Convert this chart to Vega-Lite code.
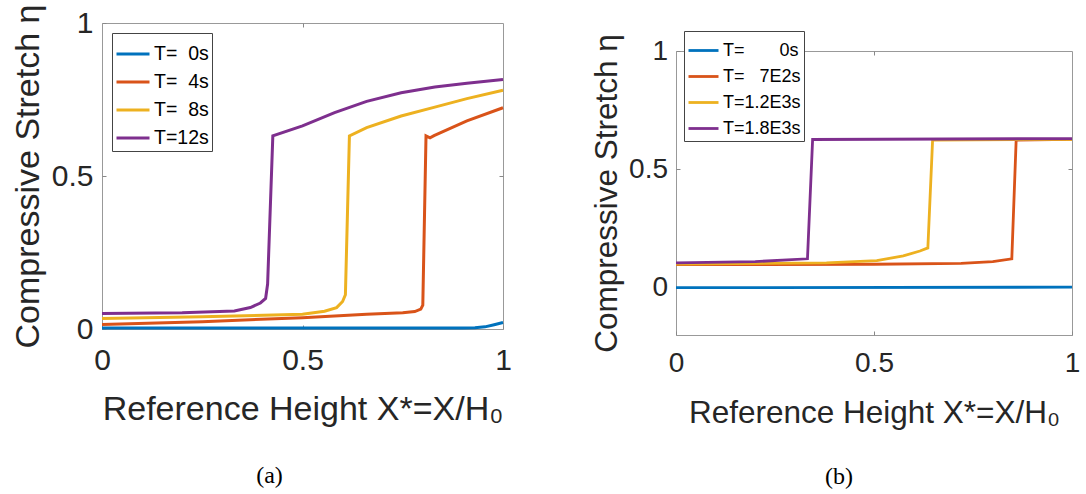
{
  "$schema": "https://vega.github.io/schema/vega-lite/v6.json",
  "padding": {"left": 10, "top": 3, "right": 0, "bottom": 0},
  "spacing": 78,
  "resolve": {"scale": {"color": "independent"}, "legend": {"color": "independent"}},
  "config": {
    "font": "Liberation Sans",
    "view": {"stroke": "#999", "strokeWidth": 1},
    "axis": {"labelFont": "Liberation Sans", "titleFont": "Liberation Sans", "labelColor": "#262626", "titleColor": "#262626", "titleFontWeight": "normal", "tickColor": "#888", "domain": false, "grid": false, "labelFlush": false, "labelOverlap": false, "labelBound": false},
    "legend": {"labelFont": "Liberation Sans"}
  },
  "datasets": {
    "a": [
      {"s": "T=\u00a0\u00a00s", "x": 0, "y": 0.003},
      {"s": "T=\u00a0\u00a00s", "x": 0.5, "y": 0.003},
      {"s": "T=\u00a0\u00a00s", "x": 0.9, "y": 0.003},
      {"s": "T=\u00a0\u00a00s", "x": 0.93, "y": 0.004},
      {"s": "T=\u00a0\u00a00s", "x": 0.955, "y": 0.007},
      {"s": "T=\u00a0\u00a00s", "x": 0.978, "y": 0.014},
      {"s": "T=\u00a0\u00a00s", "x": 1, "y": 0.021},
      {"s": "T=\u00a0\u00a04s", "x": 0, "y": 0.015},
      {"s": "T=\u00a0\u00a04s", "x": 0.25, "y": 0.024},
      {"s": "T=\u00a0\u00a04s", "x": 0.5, "y": 0.037},
      {"s": "T=\u00a0\u00a04s", "x": 0.66, "y": 0.048},
      {"s": "T=\u00a0\u00a04s", "x": 0.75, "y": 0.053},
      {"s": "T=\u00a0\u00a04s", "x": 0.78, "y": 0.057},
      {"s": "T=\u00a0\u00a04s", "x": 0.795, "y": 0.065},
      {"s": "T=\u00a0\u00a04s", "x": 0.8, "y": 0.078},
      {"s": "T=\u00a0\u00a04s", "x": 0.808, "y": 0.631},
      {"s": "T=\u00a0\u00a04s", "x": 0.818, "y": 0.625},
      {"s": "T=\u00a0\u00a04s", "x": 0.828, "y": 0.632},
      {"s": "T=\u00a0\u00a04s", "x": 0.91, "y": 0.68},
      {"s": "T=\u00a0\u00a04s", "x": 1, "y": 0.723},
      {"s": "T=\u00a0\u00a08s", "x": 0, "y": 0.034},
      {"s": "T=\u00a0\u00a08s", "x": 0.25, "y": 0.04},
      {"s": "T=\u00a0\u00a08s", "x": 0.5, "y": 0.048},
      {"s": "T=\u00a0\u00a08s", "x": 0.555, "y": 0.058},
      {"s": "T=\u00a0\u00a08s", "x": 0.585, "y": 0.07},
      {"s": "T=\u00a0\u00a08s", "x": 0.6, "y": 0.09},
      {"s": "T=\u00a0\u00a08s", "x": 0.607, "y": 0.112},
      {"s": "T=\u00a0\u00a08s", "x": 0.617, "y": 0.631},
      {"s": "T=\u00a0\u00a08s", "x": 0.66, "y": 0.658},
      {"s": "T=\u00a0\u00a08s", "x": 0.746, "y": 0.696},
      {"s": "T=\u00a0\u00a08s", "x": 0.83, "y": 0.725},
      {"s": "T=\u00a0\u00a08s", "x": 0.91, "y": 0.753},
      {"s": "T=\u00a0\u00a08s", "x": 1, "y": 0.78},
      {"s": "T=12s", "x": 0, "y": 0.051},
      {"s": "T=12s", "x": 0.2, "y": 0.053},
      {"s": "T=12s", "x": 0.33, "y": 0.059},
      {"s": "T=12s", "x": 0.37, "y": 0.07},
      {"s": "T=12s", "x": 0.395, "y": 0.085},
      {"s": "T=12s", "x": 0.408, "y": 0.1},
      {"s": "T=12s", "x": 0.413, "y": 0.147},
      {"s": "T=12s", "x": 0.426, "y": 0.631},
      {"s": "T=12s", "x": 0.5, "y": 0.664},
      {"s": "T=12s", "x": 0.58, "y": 0.707},
      {"s": "T=12s", "x": 0.66, "y": 0.744},
      {"s": "T=12s", "x": 0.746, "y": 0.772},
      {"s": "T=12s", "x": 0.83, "y": 0.791},
      {"s": "T=12s", "x": 0.91, "y": 0.803},
      {"s": "T=12s", "x": 1, "y": 0.815}
    ],
    "b": [
      {"s": "T=\u00a0\u00a0\u00a0\u00a0\u00a0\u00a0\u00a00s", "x": 0, "y": 0.0},
      {"s": "T=\u00a0\u00a0\u00a0\u00a0\u00a0\u00a0\u00a00s", "x": 1, "y": 0.002},
      {"s": "T=\u00a0\u00a0\u00a07E2s", "x": 0, "y": 0.097},
      {"s": "T=\u00a0\u00a0\u00a07E2s", "x": 0.5, "y": 0.099},
      {"s": "T=\u00a0\u00a0\u00a07E2s", "x": 0.72, "y": 0.103},
      {"s": "T=\u00a0\u00a0\u00a07E2s", "x": 0.8, "y": 0.11},
      {"s": "T=\u00a0\u00a0\u00a07E2s", "x": 0.848, "y": 0.122},
      {"s": "T=\u00a0\u00a0\u00a07E2s", "x": 0.859, "y": 0.624},
      {"s": "T=\u00a0\u00a0\u00a07E2s", "x": 1, "y": 0.627},
      {"s": "T=1.2E3s", "x": 0, "y": 0.1},
      {"s": "T=1.2E3s", "x": 0.38, "y": 0.105},
      {"s": "T=1.2E3s", "x": 0.507, "y": 0.114},
      {"s": "T=1.2E3s", "x": 0.574, "y": 0.134},
      {"s": "T=1.2E3s", "x": 0.616, "y": 0.155},
      {"s": "T=1.2E3s", "x": 0.636, "y": 0.168},
      {"s": "T=1.2E3s", "x": 0.648, "y": 0.624},
      {"s": "T=1.2E3s", "x": 1, "y": 0.627},
      {"s": "T=1.8E3s", "x": 0, "y": 0.105},
      {"s": "T=1.8E3s", "x": 0.2, "y": 0.11},
      {"s": "T=1.8E3s", "x": 0.332, "y": 0.122},
      {"s": "T=1.8E3s", "x": 0.345, "y": 0.626},
      {"s": "T=1.8E3s", "x": 1, "y": 0.63}
    ]
  },
  "hconcat": [
    {
      "width": 401,
      "height": 306,
      "data": {"name": "a"},
      "title": {"text": "(a)", "orient": "bottom", "anchor": "middle", "frame": "group", "font": "Liberation Serif", "fontSize": 24, "fontWeight": "normal", "color": "#000", "offset": 38, "dx": -33},
      "resolve": {"axis": {"x": "independent", "y": "independent"}},
      "layer": [
        {
          "mark": {"type": "line", "strokeWidth": 3, "clip": false},
          "encoding": {
            "x": {"field": "x", "type": "quantitative", "scale": {"domain": [0, 1], "nice": false, "zero": false},
              "axis": {"values": [0, 0.5, 1], "format": "~g", "labelFontSize": 30, "labelPadding": 20, "tickSize": -4, "title": "Reference Height X*=X/H\u2080", "titleFontSize": 34, "titlePadding": 17}},
            "y": {"field": "y", "type": "quantitative", "scale": {"domain": [0, 1], "nice": false, "zero": false},
              "axis": {"values": [0, 0.5, 1], "format": "~g", "labelFontSize": 30, "labelPadding": 13, "tickSize": -4, "title": "Compressive Stretch \u03b7", "titleFontSize": 34, "titlePadding": 6}},
            "color": {"field": "s", "type": "nominal",
              "scale": {"domain": ["T=\u00a0\u00a00s", "T=\u00a0\u00a04s", "T=\u00a0\u00a08s", "T=12s"], "range": ["#0072BD", "#D95319", "#EDB120", "#7E2F8E"]},
              "legend": {"title": null, "orient": "none", "legendX": 10, "legendY": 10, "symbolType": "stroke", "symbolSize": 1089, "symbolStrokeWidth": 3, "labelFontSize": 19.5, "labelColor": "#000", "labelOffset": 3, "fillColor": "#fff", "strokeColor": "#444", "padding": 3, "rowPadding": -7}}
          }
        },
        {
          "mark": {"type": "point", "opacity": 0},
          "encoding": {
            "x": {"datum": 0.5, "type": "quantitative", "axis": {"orient": "top", "values": [0.5], "labels": false, "title": null, "tickSize": -4}},
            "y": {"datum": 0.5, "type": "quantitative", "axis": {"orient": "right", "values": [0.5], "labels": false, "title": null, "tickSize": -4}}
          }
        }
      ]
    },
    {
      "spacing": 0,
      "vconcat": [
        {
          "width": 396,
          "height": 10,
          "view": {"stroke": null},
          "data": {"values": []},
          "mark": {"type": "point"}
        },
        {
          "width": 396,
          "height": 284,
          "data": {"name": "b"},
          "title": {"text": "(b)", "orient": "bottom", "anchor": "middle", "frame": "group", "font": "Liberation Serif", "fontSize": 24, "fontWeight": "normal", "color": "#000", "offset": 36, "dx": -35},
          "resolve": {"axis": {"x": "independent", "y": "independent"}},
          "layer": [
            {
              "mark": {"type": "line", "strokeWidth": 2.8, "clip": false},
              "encoding": {
                "x": {"field": "x", "type": "quantitative", "scale": {"domain": [0, 1], "nice": false, "zero": false},
                  "axis": {"values": [0, 0.5, 1], "format": "~g", "labelFontSize": 28, "labelPadding": 18, "tickSize": -4, "title": "Reference Height X*=X/H\u2080", "titleFontSize": 31.5, "titlePadding": 20}},
                "y": {"field": "y", "type": "quantitative", "scale": {"domain": [-0.2, 1], "nice": false, "zero": false},
                  "axis": {"values": [0, 0.5, 1], "format": "~g", "labelFontSize": 28, "labelPadding": 12.5, "tickSize": -4, "title": "Compressive Stretch \u03b7", "titleFontSize": 31.5, "titlePadding": 5.5}},
                "color": {"field": "s", "type": "nominal",
                  "scale": {"domain": ["T=\u00a0\u00a0\u00a0\u00a0\u00a0\u00a0\u00a00s", "T=\u00a0\u00a0\u00a07E2s", "T=1.2E3s", "T=1.8E3s"], "range": ["#0072BD", "#D95319", "#EDB120", "#7E2F8E"]},
                  "legend": {"title": null, "orient": "none", "legendX": 8, "legendY": 8, "symbolType": "stroke", "symbolSize": 900, "symbolStrokeWidth": 2.8, "labelFontSize": 18, "labelColor": "#000", "labelOffset": 3, "fillColor": "#fff", "strokeColor": "#444", "padding": 3, "rowPadding": -5}}
              }
            },
            {
              "mark": {"type": "point", "opacity": 0},
              "encoding": {
                "x": {"datum": 0.5, "type": "quantitative", "axis": {"orient": "top", "values": [0.5], "labels": false, "title": null, "tickSize": -4}},
                "y": {"datum": 0.5, "type": "quantitative", "axis": {"orient": "right", "values": [0.5], "labels": false, "title": null, "tickSize": -4}}
              }
            }
          ]
        }
      ]
    }
  ]
}
